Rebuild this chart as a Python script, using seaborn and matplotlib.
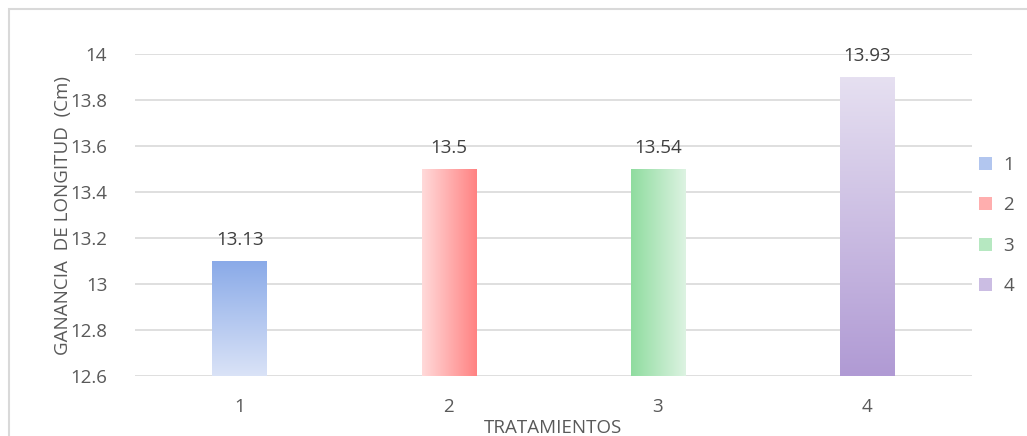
import numpy as np
import pandas as pd
import seaborn as sns
import matplotlib.pyplot as plt
from matplotlib.patches import Patch, Rectangle
from matplotlib.colors import LinearSegmentedColormap

# Datos
tratamientos = ["1", "2", "3", "4"]
ganancia = [13.1, 13.5, 13.5, 13.9]
etiquetas = ["13.13", "13.5", "13.54", "13.93"]

# Degradados (color inicio, color fin, dirección)
degradados = [
    ("#dae3f7", "#8aaae8", "v"),   # abajo -> arriba
    ("#ffdada", "#ff8282", "h"),   # izquierda -> derecha
    ("#8fdc9f", "#ddf3e2", "h"),
    ("#b09ad4", "#e6e0f1", "v"),
]

df = pd.DataFrame({"tratamiento": tratamientos, "ganancia": ganancia})

sns.set_theme(style="white")
plt.rcParams["font.family"] = ["Open Sans", "DejaVu Sans"]
gris = "#595959"
fs = 13.5

fig = plt.figure(figsize=(10.27, 4.36), dpi=100)
ax = fig.add_axes([0.1315, 0.1376, 0.8145, 0.7385])

sns.barplot(data=df, x="tratamiento", y="ganancia", width=0.26,
            color="white", ax=ax, zorder=2)
ax.set_ylim(12.6, 14)

# Rellenar cada barra con su degradado
for barra, (c0, c1, d) in zip(ax.patches, degradados):
    x0 = barra.get_x()
    x1 = x0 + barra.get_width()
    y1 = barra.get_height()
    cmap = LinearSegmentedColormap.from_list("g", [c0, c1])
    grad = np.linspace(0, 1, 256)
    img = grad.reshape(-1, 1) if d == "v" else grad.reshape(1, -1)
    im = ax.imshow(img, cmap=cmap, extent=(x0, x1, 12.6, y1), origin="lower",
                   aspect="auto", zorder=3)
    im.set_clip_path(barra)
    barra.set_edgecolor("none")

for barra, txt in zip(ax.patches, etiquetas):
    ax.annotate(txt, (barra.get_x() + barra.get_width() / 2, barra.get_height()),
                xytext=(0, 9), textcoords="offset points", ha="center",
                va="bottom", fontsize=fs, color="#404040", zorder=4)

ax.set_xlim(-0.5, 3.5)
ax.yaxis.grid(True, color="#d9d9d9", linewidth=1.2)
ax.set_axisbelow(True)
sns.despine(ax=ax, left=True, bottom=True)
ax.set_yticks([12.6, 12.8, 13, 13.2, 13.4, 13.6, 13.8, 14])
ax.set_yticklabels(["12.6", "12.8", "13", "13.2", "13.4", "13.6", "13.8", "14"])
ax.tick_params(axis="both", length=0, labelsize=fs, labelcolor=gris)
ax.tick_params(axis="y", pad=20)
ax.tick_params(axis="x", pad=16)
ax.set_xlabel("TRATAMIENTOS", fontsize=fs, color=gris, labelpad=2)
ax.set_ylabel("GANANCIA  DE LONGITUD  (Cm)", fontsize=fs, color=gris, labelpad=-1)

# Leyenda
manejadores = [Patch(facecolor=LinearSegmentedColormap.from_list("g", [c0, c1])(0.5),
                     edgecolor="none", label=t)
               for (c0, c1, d), t in zip(degradados, tratamientos)]
fig.legend(handles=manejadores, loc="center left", bbox_to_anchor=(0.937, 0.483),
           frameon=False, fontsize=fs, labelcolor=gris, handlelength=0.7,
           handleheight=0.7, handletextpad=0.6, labelspacing=1.2)

# Marco del gráfico
fig.patches.append(Rectangle((9 / 1027, -0.1), 1.2, 1 - 9 / 436 + 0.1,
                             transform=fig.transFigure, fill=False,
                             edgecolor="#d9d9d9", linewidth=1.5))

fig.savefig("out.png", dpi=100)
